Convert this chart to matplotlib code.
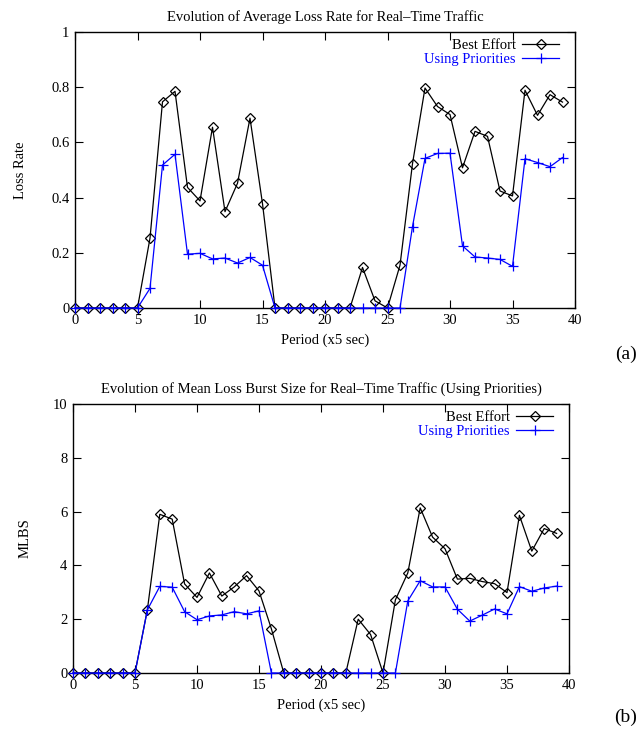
import numpy as np
import matplotlib.pyplot as plt

plt.rcParams['font.family'] = ['Liberation Serif', 'DejaVu Serif']

periods = np.arange(40)

loss_best = [0, 0, 0, 0, 0, 0, 0.253, 0.747, 0.785, 0.437, 0.388, 0.655, 0.349, 0.452,
             0.688, 0.378, 0, 0, 0, 0, 0, 0, 0, 0.147, 0.026, 0, 0.155, 0.523, 0.797,
             0.730, 0.701, 0.508, 0.640, 0.622, 0.424, 0.406, 0.789, 0.698, 0.773, 0.746]
loss_prio = [0, 0, 0, 0, 0, 0, 0.071, 0.518, 0.557, 0.195, 0.198, 0.178, 0.181, 0.163,
             0.183, 0.155, 0, 0, 0, 0, 0, 0, 0, 0, 0, 0, 0, 0.295, 0.542, 0.560, 0.561,
             0.225, 0.185, 0.181, 0.176, 0.151, 0.541, 0.527, 0.512, 0.545]

mlbs_best = [0, 0, 0, 0, 0, 0, 2.36, 5.90, 5.72, 3.31, 2.81, 3.72, 2.86, 3.20, 3.62,
             3.05, 1.64, 0, 0, 0, 0, 0, 0, 2.00, 1.43, 0, 2.72, 3.72, 6.14, 5.05, 4.62,
             3.49, 3.52, 3.40, 3.32, 2.99, 5.86, 4.53, 5.37, 5.19]
mlbs_prio = [0, 0, 0, 0, 0, 0, 2.35, 3.22, 3.19, 2.28, 1.98, 2.12, 2.16, 2.28, 2.20,
             2.31, 0, 0, 0, 0, 0, 0, 0, 0, 0, 0, 0, 2.68, 3.43, 3.20, 3.20, 2.37, 1.93,
             2.15, 2.38, 2.20, 3.21, 3.04, 3.16, 3.23]

W, H = 639, 731
fig = plt.figure(figsize=(W / 100, H / 100), dpi=100)


def box(l, t, r, b):
    return [l / W, 1 - b / H, (r - l) / W, (b - t) / H]


def panel(ax, best, prio, ymax, yticks, ylabels, title, ylabel, ylab_x, wpx, hpx):
    ax.plot(periods, best, color='black', lw=0.9, marker='D', ms=5,
            mfc='none', mec='black', mew=0.9, label='Best Effort', clip_on=False, zorder=3)
    ax.plot(periods, prio, color='blue', lw=0.9, marker='+', ms=7,
            mew=0.9, label='Using Priorities', clip_on=False, zorder=4)
    ax.set_xlim(0, 40)
    ax.set_ylim(0, ymax)
    ax.set_xticks(range(0, 41, 5))
    ax.set_yticks(yticks)
    ax.set_yticklabels(ylabels)
    ax.tick_params(direction='in', top=True, right=True, length=6, width=0.8,
                   labelsize=10.5, pad=4)
    for s in ax.spines.values():
        s.set_linewidth(1.0)
    ax.set_title(title, fontsize=10.5, pad=8)
    ax.set_xlabel('Period (x5 sec)', fontsize=10.5, labelpad=5)
    ax.set_ylabel(ylabel, fontsize=10.5)
    ax.yaxis.set_label_coords(ylab_x, 0.5)
    leg = ax.legend(loc='upper right', frameon=False, markerfirst=False,
                    handlelength=2.5, handletextpad=0.45, labelspacing=0.0,
                    fontsize=10.5, borderaxespad=0.3,
                    bbox_to_anchor=(1 - 6 / wpx, 1 + 3 / hpx))
    for txt, c in zip(leg.get_texts(), ['black', 'blue']):
        txt.set_color(c)


ax1 = fig.add_axes(box(75, 32, 575, 308))
panel(ax1, loss_best, loss_prio, 1, [0, 0.2, 0.4, 0.6, 0.8, 1],
      ['0', '0.2', '0.4', '0.6', '0.8', '1'],
      'Evolution of Average Loss Rate for Real\u2013Time Traffic', 'Loss Rate',
      (27 - 75) / 500, 500, 276)

ax2 = fig.add_axes(box(73, 404, 569, 673))
panel(ax2, mlbs_best, mlbs_prio, 10, [0, 2, 4, 6, 8, 10],
      ['0', '2', '4', '6', '8', '10'],
      'Evolution of Mean Loss Burst Size for Real\u2013Time Traffic (Using Priorities)', 'MLBS',
      (32 - 73) / 496, 496, 269)

fig.text(637 / W, 1 - 354 / H, '(a)', fontsize=14, ha='right', va='center')
fig.text(637 / W, 1 - 717 / H, '(b)', fontsize=14, ha='right', va='center')

fig.savefig('out.png', dpi=100)
